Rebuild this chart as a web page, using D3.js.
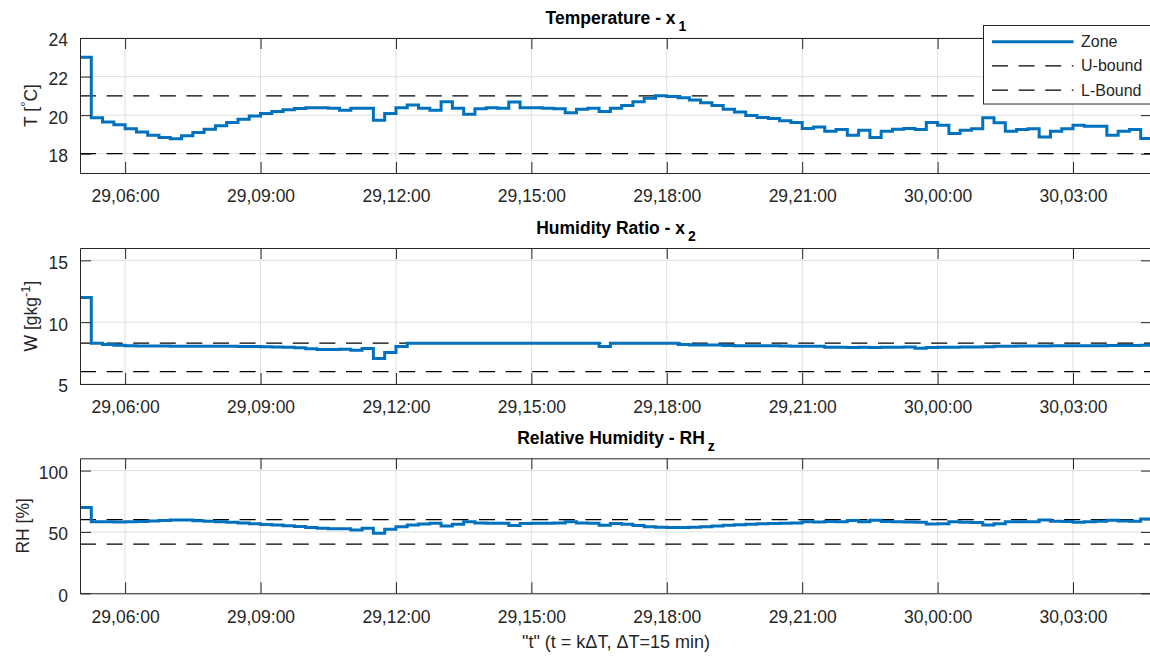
<!DOCTYPE html>
<html>
<head>
<meta charset="utf-8">
<script src="https://cdn.jsdelivr.net/npm/d3@7"></script>
<style>
	body { margin: 0; background: #fff; }
	svg { display: block; font-family: "Liberation Sans", Arial, Helvetica, sans-serif; }
</style>
</head>
<body>
<div id="chart"></div>
<script>

	// 15 min samples, 29,05:00 -> 30,04:45
	var startTime = new Date(2016, 6, 29, 5, 0);
	var stepMinutes = 15;

	var temperature = [
		23.0, 19.86, 19.65, 19.5, 19.29, 19.13, 18.96, 18.84, 18.77, 18.93,
		19.1, 19.27, 19.45, 19.62, 19.79, 19.95, 20.09, 20.19, 20.28, 20.35,
		20.38, 20.38, 20.36, 20.26, 20.36, 20.36, 19.74, 20.09, 20.38, 20.52,
		20.36, 20.26, 20.69, 20.36, 20.05, 20.33, 20.38, 20.36, 20.68, 20.38,
		20.38, 20.36, 20.33, 20.12, 20.31, 20.36, 20.19, 20.36, 20.5, 20.69,
		20.88, 21.0, 20.97, 20.9, 20.78, 20.64, 20.5, 20.31, 20.16, 19.98,
		19.88, 19.83, 19.71, 19.62, 19.31, 19.39, 19.17, 19.26, 18.96, 19.22,
		18.84, 19.17, 19.27, 19.31, 19.26, 19.62, 19.48, 19.05, 19.22, 19.29,
		19.86, 19.6, 19.17, 19.26, 19.29, 18.87, 19.17, 19.29, 19.48, 19.43,
		19.43, 18.96, 19.17, 19.26, 18.79, 18.8
	];

	var humidityRatio = [
		12.0, 8.3, 8.2, 8.13, 8.1, 8.08, 8.07, 8.07, 8.06, 8.06,
		8.06, 8.05, 8.05, 8.05, 8.04, 8.03, 8.02, 8.0, 7.97, 7.93,
		7.86, 7.8, 7.8, 7.82, 7.72, 7.88, 7.07, 7.55, 8.03, 8.3,
		8.3, 8.3, 8.3, 8.3, 8.3, 8.3, 8.3, 8.3, 8.3, 8.3,
		8.3, 8.3, 8.3, 8.3, 8.3, 8.3, 8.03, 8.3, 8.3, 8.3,
		8.3, 8.3, 8.3, 8.2, 8.15, 8.15, 8.15, 8.12, 8.1, 8.1,
		8.1, 8.1, 8.08, 8.05, 8.05, 8.05, 7.97, 7.97, 7.96, 7.97,
		7.96, 7.98, 7.98, 7.99, 7.9, 7.96, 7.97, 7.98, 7.99, 8.0,
		8.02, 8.05, 8.06, 8.07, 8.08, 8.08, 8.09, 8.09, 8.1, 8.1,
		8.1, 8.11, 8.12, 8.12, 8.13, 8.13
	];

	var relHumidity = [
		70, 58.4, 58.2, 58.0, 58.2, 58.6, 59.0, 59.4, 59.8, 59.7,
		59.2, 58.8, 58.3, 57.8, 57.2, 56.7, 56.1, 55.6, 55.0, 54.4,
		53.6, 53.0, 52.5, 52.5, 51.6, 53.0, 48.9, 52.2, 54.3, 55.6,
		56.5, 57.0, 54.9, 56.3, 58.2, 57.2, 57.0, 57.1, 55.3, 56.8,
		57.0, 57.1, 57.2, 58.2, 57.3, 57.1, 55.5, 56.9, 56.2, 55.2,
		54.3, 53.8, 53.7, 53.6, 53.8, 54.2, 54.8, 55.4, 55.8, 56.3,
		56.6, 56.8, 57.0, 57.2, 58.4, 58.0, 58.6, 58.2, 59.3, 58.4,
		59.6, 58.5, 58.2, 58.1, 57.8, 56.5, 56.6, 58.2, 57.8, 57.6,
		55.6, 56.6, 58.2, 58.2, 58.4, 59.8, 58.8, 58.6, 57.9, 58.4,
		58.8, 59.6, 59.0, 58.8, 60.6, 60.6
	];

	// [upper, lower]
	var tempBounds = [21, 18];
	var humidityBounds = [8.3, 6];
	var rhBounds = [60, 40];

	var tempTicks = [18, 20, 22, 24];
	var humidityTicks = [5, 10, 15];
	var rhTicks = [0, 50, 100];

	var legendLabels = ["Zone", "U-bound", "L-Bound"];

	var xLabel = "\"t\" (t = k\u0394T, \u0394T=15 min)";

	var blue = "#0072BD", ink = "#262626", gridColor = "#dfdfdf";
	var fontSize = "17.5px";

	var times = temperature.map(function(d, i) {
		return d3.timeMinute.offset(startTime, i * stepMinutes);
	});

	var panels = [
		{ title: "Temperature - x", sub: "1", values: temperature, bounds: tempBounds, domain: [17, 24], ticks: tempTicks,
			top: 38, bottom: 173, ylabel: ["T [", "\u00b0", "C]"], ylabelX: 36.5 },
		{ title: "Humidity Ratio - x", sub: "2", values: humidityRatio, bounds: humidityBounds, domain: [5, 16], ticks: humidityTicks,
			top: 248, bottom: 384, ylabel: ["W [gkg", "-1", "]"], ylabelX: 36.5 },
		{ title: "Relative Humidity - RH", sub: "z", values: relHumidity, bounds: rhBounds, domain: [0, 110], ticks: rhTicks,
			top: 458.3, bottom: 593.3, ylabel: ["RH [%]"], ylabelX: 28.5 }
	];

	var width = 1150, height = 657;
	var left = 80, right = 1152;

	var svg = d3.select("#chart").append("svg")
		.attr("width", width)
		.attr("height", height);

	var x = d3.scaleTime()
		.domain([times[0], times[times.length - 1]])
		.range([left, right]);

	var xTicks = d3.timeHour.every(3).range(times[0], times[times.length - 1]);
	var fmt = d3.timeFormat("%d,%H:%M");

	function styleAxis(sel) {
		sel.attr("color", ink).attr("font-size", fontSize).attr("font-family", null);
		sel.selectAll("text").attr("fill", ink);
		sel.selectAll("line").attr("stroke-width", 1);
		sel.select(".domain").attr("stroke-width", 1);
	}

	panels.forEach(function(p) {

		var y = d3.scaleLinear().domain(p.domain).range([p.bottom, p.top]);
		var g = svg.append("g");

		// grid
		g.append("g").selectAll("line").data(xTicks).join("line")
			.attr("x1", function(d) { return x(d); }).attr("x2", function(d) { return x(d); })
			.attr("y1", p.top).attr("y2", p.bottom)
			.attr("stroke", gridColor).attr("stroke-width", 1);
		g.append("g").selectAll("line").data(p.ticks).join("line")
			.attr("x1", left).attr("x2", right)
			.attr("y1", function(d) { return y(d); }).attr("y2", function(d) { return y(d); })
			.attr("stroke", gridColor).attr("stroke-width", 1);

		// bounds
		var boundLine = d3.line()
			.x(function(d) { return x(d[0]); })
			.y(function(d) { return y(d[1]); });
		p.bounds.forEach(function(b) {
			g.append("path")
				.datum([[times[0], b], [times[times.length - 1], b]])
				.attr("d", boundLine)
				.attr("fill", "none")
				.attr("stroke", "#000")
				.attr("stroke-width", 1.2)
				.attr("stroke-dasharray", "16,10.6");
		});

		// zone
		var stairs = d3.line()
			.x(function(d, i) { return x(times[i]); })
			.y(function(d) { return y(d); })
			.curve(d3.curveStepAfter);
		g.append("path")
			.datum(p.values)
			.attr("d", stairs)
			.attr("fill", "none")
			.attr("stroke", blue)
			.attr("stroke-width", 3)
			.attr("stroke-linejoin", "miter");

		// axes
		g.append("g").attr("transform", "translate(0," + p.bottom + ")")
			.call(d3.axisBottom(x).tickValues(xTicks).tickFormat(fmt).tickSize(-11).tickSizeOuter(0).tickPadding(17))
			.call(styleAxis);
		g.append("g").attr("transform", "translate(0," + p.top + ")")
			.call(d3.axisTop(x).tickValues(xTicks).tickFormat("").tickSize(-11).tickSizeOuter(0))
			.call(styleAxis);
		g.append("g").attr("transform", "translate(" + left + ",0)")
			.call(d3.axisLeft(y).tickValues(p.ticks).tickFormat(d3.format("d")).tickSize(-11).tickSizeOuter(0).tickPadding(12))
			.call(styleAxis)
			.selectAll("text").attr("dy", "0.45em");
		g.append("g").attr("transform", "translate(" + right + ",0)")
			.call(d3.axisRight(y).tickValues(p.ticks).tickFormat("").tickSize(-11).tickSizeOuter(0))
			.call(styleAxis);

		// title
		var t = svg.append("text")
			.attr("x", (left + right) / 2)
			.attr("y", p.top - 14.5)
			.attr("text-anchor", "middle")
			.attr("font-weight", "bold")
			.attr("font-size", fontSize)
			.attr("fill", "#000");
		t.append("tspan").text(p.title);
		t.append("tspan").attr("dx", 3).attr("dy", 7).attr("font-size", "14px").text(p.sub);

		// y label
		var yl = svg.append("text")
			.attr("transform", "translate(" + p.ylabelX + "," + ((p.top + p.bottom) / 2) + ") rotate(-90)")
			.attr("text-anchor", "middle")
			.attr("font-size", fontSize)
			.attr("fill", ink);
		yl.append("tspan").text(p.ylabel[0]);
		if (p.ylabel.length > 1) {
			yl.append("tspan").attr("dy", -7).attr("font-size", "13px").text(p.ylabel[1]);
			yl.append("tspan").attr("dy", 7).text(p.ylabel[2]);
		}

	});

	svg.append("text")
		.attr("x", (left + right) / 2)
		.attr("y", 648)
		.attr("text-anchor", "middle")
		.attr("font-size", "18px")
		.attr("fill", ink)
		.text(xLabel);

	// legend
	var legend = svg.append("g");
	legend.append("rect")
		.attr("x", 983.5).attr("y", 25.5)
		.attr("width", 180).attr("height", 78.5)
		.attr("fill", "#fff")
		.attr("stroke", ink)
		.attr("stroke-width", 1);

	var rows = legend.selectAll("g.row").data(legendLabels).join("g")
		.attr("class", "row")
		.attr("transform", function(d, i) { return "translate(0," + (41.7 + i * 24.2) + ")"; });
	rows.append("line")
		.attr("x1", 992).attr("x2", 1073.5)
		.attr("stroke", function(d, i) { return i === 0 ? blue : "#000"; })
		.attr("stroke-width", function(d, i) { return i === 0 ? 3 : 1.2; })
		.attr("stroke-dasharray", function(d, i) { return i === 0 ? null : "16,10.6"; });
	rows.append("text")
		.attr("x", 1081)
		.attr("y", 5.5)
		.attr("font-size", "16px")
		.attr("fill", ink)
		.text(function(d) { return d; });

</script>
</body>
</html>
